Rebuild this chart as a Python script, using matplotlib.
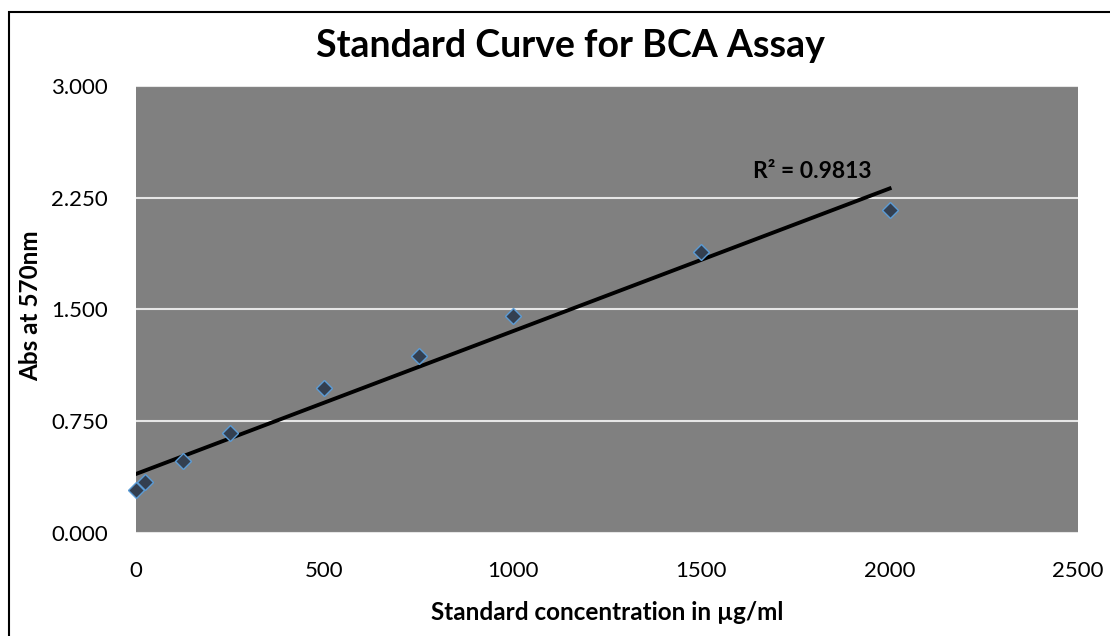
import numpy as np
import matplotlib
matplotlib.use("Agg")
import matplotlib.pyplot as plt
from matplotlib.patches import Rectangle

plt.rcParams["font.family"] = ["Lato", "DejaVu Sans"]

# standard concentrations (ug/ml) and absorbance at 570nm
conc = [0, 25, 125, 250, 500, 750, 1000, 1500, 2000]
absorb = [0.289, 0.342, 0.483, 0.671, 0.973, 1.188, 1.456, 1.886, 2.168]
r2_label = "R² = 0.9813"

xticks = [0, 500, 1000, 1500, 2000, 2500]
yticks = [0.0, 0.75, 1.5, 2.25, 3.0]

fig = plt.figure(figsize=(11.1, 6.36), dpi=100)
ax = fig.add_axes([0.1225, 0.162, 0.8487, 0.7028])
ax.set_facecolor("#808080")

# linear trendline
slope, icpt = np.polyfit(conc, absorb, 1)
xs = np.array([conc[0], conc[-1]])
ax.plot(xs, slope * xs + icpt, color="black", linewidth=2.8, zorder=3)

ax.plot(conc, absorb, linestyle="none", marker="D", markersize=8.5,
        markerfacecolor="#333f50", markeredgecolor="#5b9bd5",
        markeredgewidth=1.0, zorder=4, clip_on=False)

ax.set_xlim(0, 2500)
ax.set_ylim(0, 3.0)
ax.set_xticks(xticks)
ax.set_yticks(yticks)
ax.set_yticklabels([f"{v:.3f}" for v in yticks])
ax.yaxis.grid(True, color="#e6e6e6", linewidth=1.5)
ax.set_axisbelow(True)
for s in ax.spines.values():
    s.set_visible(False)
ax.tick_params(axis="both", length=0, labelsize=16)
ax.tick_params(axis="y", pad=20)
ax.tick_params(axis="x", pad=20)

ax.text(1796, 2.423, r2_label, fontsize=16.5, fontweight="bold",
        ha="center", va="center")

fig.text(607 / 1110, 1 - 612 / 636, "Standard concentration in µg/ml",
         fontsize=17.5, fontweight="bold", ha="center", va="center")
fig.text(31 / 1110, 1 - 306 / 636, "Abs at 570nm", fontsize=17.5,
         fontweight="bold", ha="center", va="center", rotation=90)
fig.text(570 / 1110, 1 - 46 / 636, "Standard Curve for BCA Assay",
         fontsize=27, fontweight="bold", ha="center", va="center")

fig.patches.append(Rectangle((9 / 1110, -0.05), 1.2, 1.05 - 12 / 636,
                             transform=fig.transFigure, fill=False,
                             edgecolor="black", linewidth=1.5))

fig.savefig("out.png", dpi=100)
